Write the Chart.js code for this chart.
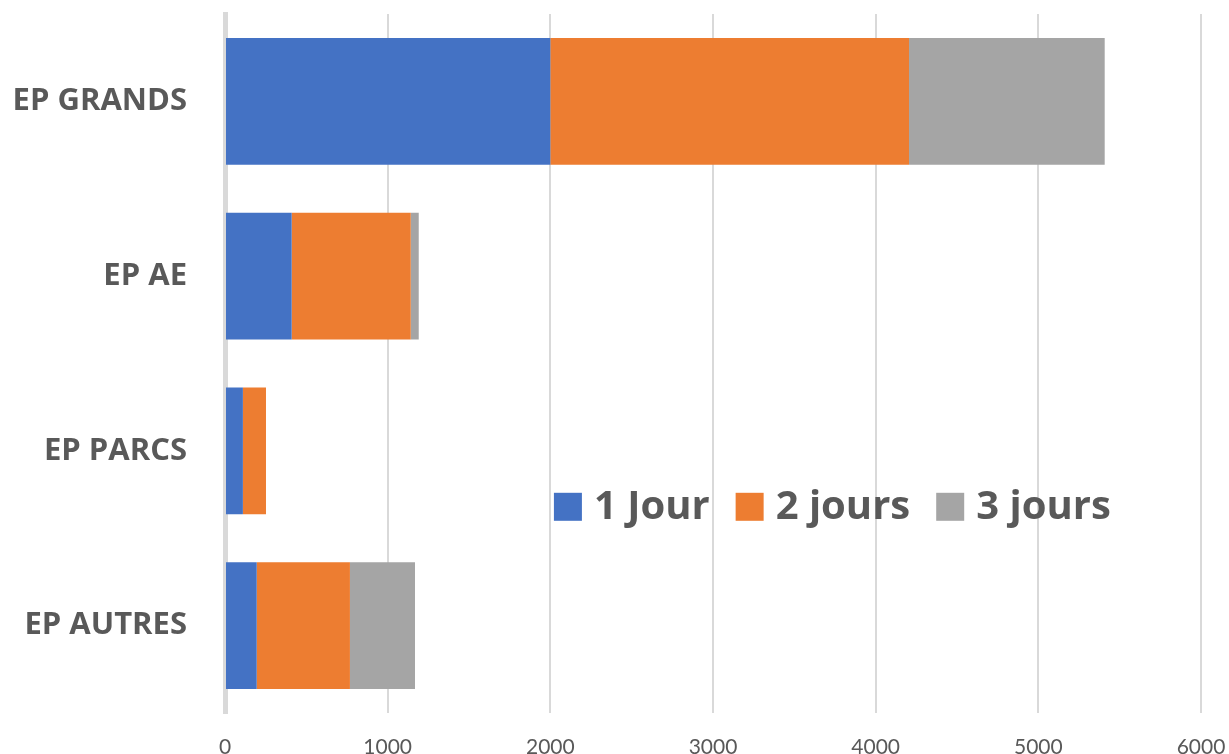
<!DOCTYPE html>
<html>
<head>
<meta charset="utf-8">
<script src="https://cdn.jsdelivr.net/npm/chart.js@4"></script>
<style>
  html, body { margin: 0; padding: 0; background: #fff; }
  #wrap { width: 1229px; height: 754px; }
</style>
</head>
<body>
<div id="wrap"><canvas id="myChart" width="1229" height="754"></canvas></div>
<script>
let categories = ["EP GRANDS", "EP AE", "EP PARCS", "EP AUTRES"];
let seriesNames = ["1 Jour", "2 jours", "3 jours"];
let unJour = [2000, 410, 110, 195];
let deuxJours = [2205, 732, 142, 573];
let troisJours = [1203, 49, 0, 400];
let xTicks = [0, 1000, 2000, 3000, 4000, 5000, 6000];
let colors = ["#4472c4", "#ed7d31", "#a5a5a5"];

let textGray = "#595959";

// legend drawn inside the plot, like the original
let insideLegend = {
  id: "insideLegend",
  afterDraw(chart) {
    let ctx = chart.ctx;
    let area = chart.chartArea;
    let x = area.left + (area.right - area.left) * 0.337;
    let y = area.top + (area.bottom - area.top) * 0.705;
    let box = 28;
    ctx.save();
    ctx.font = "bold 40px 'Open Sans'";
    ctx.textBaseline = "middle";
    chart.data.datasets.forEach((ds) => {
      ctx.fillStyle = ds.backgroundColor;
      ctx.fillRect(x, y - box / 2, box, box);
      ctx.fillStyle = textGray;
      ctx.fillText(ds.label, x + box + 12, y + 1);
      x += box + 12 + ctx.measureText(ds.label).width + 26;
    });
    ctx.restore();
  }
};

function noEdgePadding(scale) {
  scale.paddingLeft = 0;
  scale.paddingRight = 0;
  scale.paddingTop = 0;
  scale.paddingBottom = 0;
}

var ctx = document.getElementById("myChart").getContext("2d");
var myChart = new Chart(ctx, {
  type: "bar",
  data: {
    labels: categories,
    datasets: [
      { label: seriesNames[0], data: unJour, backgroundColor: colors[0] },
      { label: seriesNames[1], data: deuxJours, backgroundColor: colors[1] },
      { label: seriesNames[2], data: troisJours, backgroundColor: colors[2] }
    ]
  },
  options: {
    indexAxis: "y",
    responsive: false,
    animation: false,
    categoryPercentage: 1,
    barPercentage: 0.726,
    layout: { padding: { top: 14, right: 28, left: 0, bottom: 0 } },
    plugins: {
      legend: { display: false },
      tooltip: { enabled: false }
    },
    scales: {
      x: {
        stacked: true,
        min: 0,
        max: 6000,
        afterBuildTicks: (scale) => {
          scale.ticks = xTicks.map((v) => ({ value: v }));
        },
        afterFit: (scale) => {
          scale.height = 41;
          noEdgePadding(scale);
        },
        grid: { color: "#d9d9d9", lineWidth: 2, drawTicks: false },
        border: { display: false },
        ticks: {
          padding: 22,
          color: textGray,
          maxRotation: 0,
          callback: (v) => String(v),
          font: { family: "Lato", size: 21 }
        }
      },
      y: {
        stacked: true,
        afterFit: (scale) => {
          scale.width = 225;
          noEdgePadding(scale);
        },
        grid: { display: false },
        border: { display: true, color: "#d9d9d9", width: 5 },
        ticks: {
          padding: 30,
          color: textGray,
          font: { family: "'Open Sans'", size: 31, weight: "bold" }
        }
      }
    }
  },
  plugins: [insideLegend]
});
</script>
</body>
</html>
